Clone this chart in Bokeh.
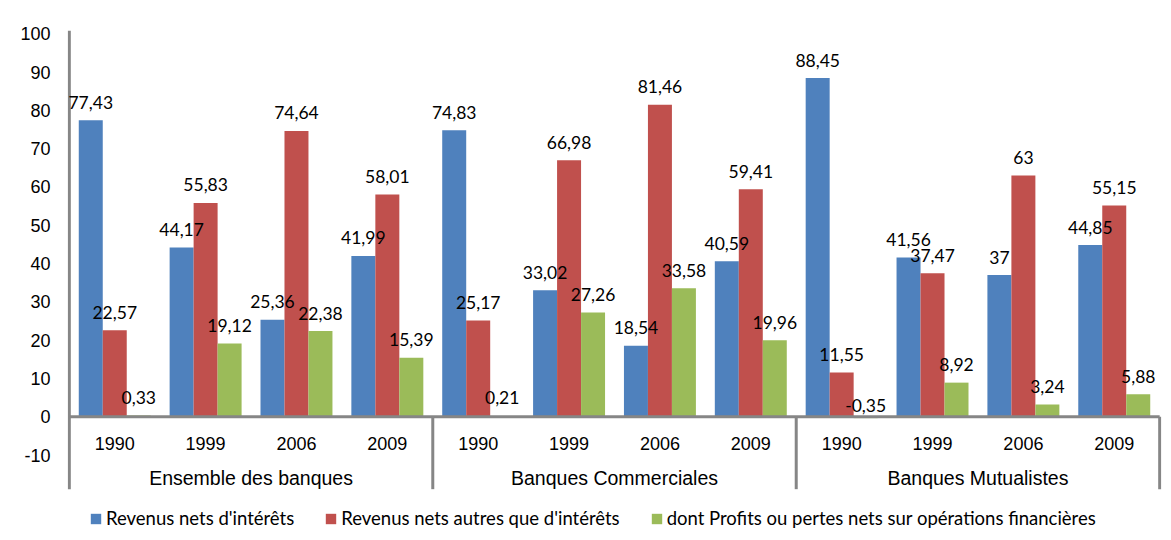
import numpy as np
from bokeh.plotting import figure
from bokeh.models import ColumnDataSource, Range1d, FixedTicker, Legend, LegendItem
from bokeh.core.properties import value
from bokeh.embed import file_html
from bokeh.resources import INLINE

# ---- data ----
groups = ["Ensemble des banques", "Banques Commerciales", "Banques Mutualistes"]
years = ["1990", "1999", "2006", "2009"]
series_names = ["Revenus nets d'intérêts",
                "Revenus nets autres que d'intérêts",
                "dont Profits ou pertes nets sur opérations financières"]
interets = [77.43, 44.17, 25.36, 41.99, 74.83, 33.02, 18.54, 40.59, 88.45, 41.56, 37, 44.85]
autres = [22.57, 55.83, 74.64, 58.01, 25.17, 66.98, 81.46, 59.41, 11.55, 37.47, 63, 55.15]
profits = [0.33, 19.12, 22.38, 15.39, 0.21, 27.26, 33.58, 19.96, -0.35, 8.92, 3.24, 5.88]
y_ticks = [-10, 0, 10, 20, 30, 40, 50, 60, 70, 80, 90, 100]

colors = ["#4F81BD", "#C0504D", "#9BBB59"]
AXIS = "#868686"
Y_TOP = 100.86
AXIS_BOTTOM = -18.9      # lower end of the category-axis separators
Y_BOTTOM = -32.3         # frame extends down to hold the legend

n_cat = len(groups) * len(years)
centers = np.arange(n_cat) + 0.5
bar_w = 0.264

p = figure(width=1171, height=540,
           x_range=Range1d(-0.02, n_cat + 0.02), y_range=Range1d(Y_BOTTOM, Y_TOP),
           output_backend="svg", toolbar_location=None, x_axis_location=None,
           min_border_left=67, min_border_right=10, min_border_top=30,
           min_border_bottom=0)
p.outline_line_color = None
p.grid.visible = False
p.background_fill_color = "white"

ax = p.yaxis[0]
ax.ticker = FixedTicker(ticks=y_ticks)
ax.major_label_overrides = {t: str(t) for t in y_ticks}
ax.axis_line_color = None
ax.major_tick_line_color = None
ax.minor_tick_line_color = None
ax.major_tick_out = 0
ax.major_tick_in = 0
ax.major_label_standoff = 17
ax.major_label_text_font = "Liberation Sans"
ax.major_label_text_font_size = "18px"
ax.major_label_text_color = "#000000"

renderers = []
sources = []
for k, (vals, col) in enumerate(zip([interets, autres, profits], colors)):
    xs = centers + (k - 1) * bar_w
    src = ColumnDataSource(dict(
        x=xs, top=vals,
        ly=[max(v, 0) for v in vals],
        lab=[f"{v:g}".replace(".", ",") for v in vals],
        off=[-18 if v >= 0 else -11 for v in vals],
    ))
    sources.append(src)
    r = p.vbar(x="x", top="top", bottom=0, width=bar_w, source=src,
               fill_color=col, line_color=None)
    renderers.append(r)

# value axis line and category axis at zero
p.segment(x0=[0], y0=[AXIS_BOTTOM], x1=[0], y1=[Y_TOP], line_color=AXIS, line_width=3)
p.segment(x0=[0], y0=[0], x1=[n_cat], y1=[0], line_color=AXIS, line_width=3)
seps = [len(years) * g for g in range(1, len(groups) + 1)]
p.segment(x0=seps, y0=0, x1=seps, y1=AXIS_BOTTOM, line_color=AXIS, line_width=3)

for src in sources:
    p.text(x="x", y="ly", text="lab", y_offset="off", source=src,
           text_align="center", text_baseline="middle",
           text_font=value("Lato"), text_font_size="17.5px", text_color="#000000")

year_src = ColumnDataSource(dict(x=centers, y=[0] * n_cat, t=years * len(groups)))
p.text(x="x", y="y", text="t", source=year_src, y_offset=27,
       text_align="center", text_baseline="middle",
       text_font=value("Liberation Sans"), text_font_size="18px", text_color="#000000")

grp_src = ColumnDataSource(dict(
    x=[len(years) * g + len(years) / 2 for g in range(len(groups))],
    y=[0] * len(groups), t=groups))
p.text(x="x", y="y", text="t", source=grp_src, y_offset=61,
       text_align="center", text_baseline="middle",
       text_font=value("Liberation Sans"), text_font_size="19.5px", text_color="#000000")

legend = Legend(items=[LegendItem(label=n, renderers=[r]) for n, r in zip(series_names, renderers)],
                orientation="horizontal", location=(22, 11),
                label_text_font="Lato", label_text_font_size="18.5px",
                label_text_color="#000000", glyph_width=13, glyph_height=13,
                label_standoff=4, spacing=30, padding=3, margin=0,
                border_line_color=None, background_fill_alpha=0)
p.add_layout(legend, "center")

open("out.html", "w").write(file_html(p, INLINE))
